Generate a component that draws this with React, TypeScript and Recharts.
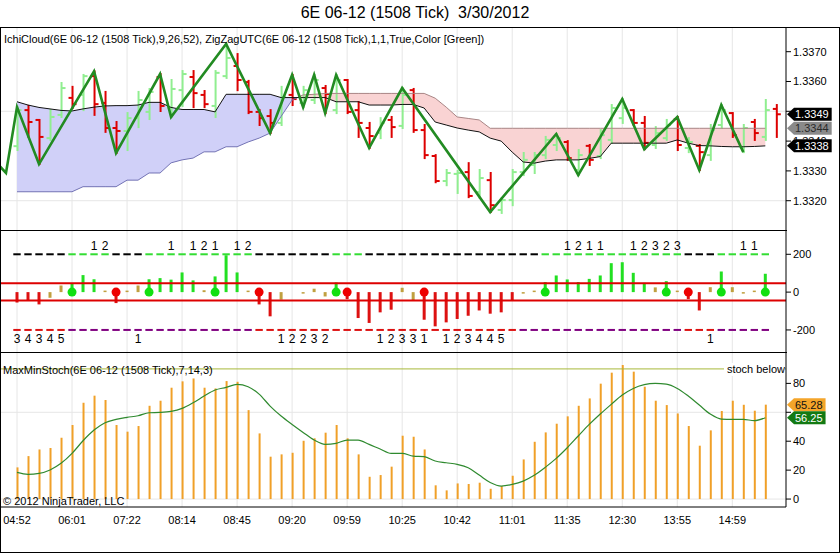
import React from 'react';
import {
  Area,
  Bar,
  CartesianGrid,
  ComposedChart,
  Line,
  ReferenceDot,
  ReferenceLine,
  Scatter,
  XAxis,
  YAxis,
} from 'recharts';

const FONT = '"Liberation Sans", Arial, sans-serif';
const TITLE = '6E 06-12 (1508 Tick)  3/30/2012';

// one label every 5 bars, starting with bar 0
const TIME_LABELS = ['04:52', '06:01', '07:22', '08:14', '08:45', '09:20', '09:59', '10:25', '10:42', '11:01', '11:35', '12:30', '13:55', '14:59'];

// 1508 tick bars, index 0..69
const OPENS = [
  1.33383, 1.33504, 1.33471, 1.3341, 1.33488, 1.33545, 1.33555, 1.33618, 1.33528, 1.33444,
  1.33434, 1.33477, 1.33498, 1.33615, 1.33511, 1.33571, 1.33615, 1.33555, 1.33518, 1.33618,
  1.33652, 1.33598, 1.33498, 1.33484, 1.33461, 1.33555, 1.33528, 1.33538, 1.33578, 1.33504,
  1.33605, 1.33504, 1.33444, 1.33427, 1.33471, 1.33451, 1.33571, 1.33437, 1.3335, 1.33266,
  1.3329, 1.33296, 1.33229, 1.33269, 1.33169, 1.33202, 1.33296, 1.3332, 1.33353, 1.33387,
  1.33397, 1.33303, 1.33384, 1.3335, 1.33404, 1.33477, 1.33504, 1.33461, 1.33387, 1.3341,
  1.33474, 1.33377, 1.33384, 1.33353, 1.33454, 1.33494, 1.33377, 1.33464, 1.33414, 1.33508,
];
const HIGHS = [
  1.33514, 1.33518, 1.33471, 1.33504, 1.33595, 1.33582, 1.33622, 1.33634, 1.33565, 1.33464,
  1.33494, 1.33565, 1.33575, 1.33625, 1.33605, 1.33635, 1.33635, 1.33568, 1.33635, 1.33726,
  1.33692, 1.33602, 1.33504, 1.33504, 1.33582, 1.33622, 1.33582, 1.33622, 1.33585, 1.33622,
  1.33605, 1.33531, 1.33461, 1.33477, 1.33481, 1.33578, 1.33575, 1.33454, 1.33353, 1.33303,
  1.333, 1.33326, 1.33303, 1.33293, 1.33209, 1.33303, 1.3336, 1.3336, 1.33414, 1.33424,
  1.334, 1.3337, 1.33387, 1.33437, 1.33521, 1.33541, 1.33504, 1.33481, 1.33447, 1.33471,
  1.33481, 1.3341, 1.33387, 1.33454, 1.33521, 1.33494, 1.33454, 1.33471, 1.33538, 1.33521,
];
const LOWS = [
  1.3337, 1.33414, 1.33323, 1.33404, 1.33481, 1.33511, 1.33504, 1.33488, 1.33431, 1.3336,
  1.3337, 1.33447, 1.33474, 1.33501, 1.33481, 1.33518, 1.33514, 1.33514, 1.33481, 1.33612,
  1.33571, 1.33494, 1.33454, 1.33427, 1.33454, 1.33521, 1.33514, 1.33528, 1.33494, 1.33494,
  1.33494, 1.33414, 1.33377, 1.3341, 1.33414, 1.33444, 1.33431, 1.33343, 1.33262, 1.33252,
  1.33226, 1.33212, 1.33209, 1.33162, 1.33159, 1.33185, 1.33286, 1.33293, 1.33343, 1.3337,
  1.33337, 1.33286, 1.3332, 1.33343, 1.33394, 1.33461, 1.33454, 1.33373, 1.33377, 1.33404,
  1.3337, 1.33363, 1.33303, 1.33337, 1.33444, 1.33414, 1.33363, 1.33404, 1.33404, 1.33414,
];
const CLOSES = [
  1.33504, 1.33464, 1.33414, 1.33481, 1.33578, 1.33524, 1.33618, 1.33524, 1.33444, 1.33434,
  1.33477, 1.33538, 1.33565, 1.33518, 1.33575, 1.33625, 1.33561, 1.33524, 1.33629, 1.33679,
  1.33605, 1.33498, 1.33477, 1.33461, 1.33548, 1.33541, 1.33571, 1.33605, 1.33558, 1.33605,
  1.33498, 1.33461, 1.33417, 1.33461, 1.33447, 1.33555, 1.33437, 1.33353, 1.33266, 1.33293,
  1.33293, 1.33216, 1.33276, 1.33185, 1.33202, 1.33296, 1.33337, 1.33353, 1.33404, 1.3341,
  1.33343, 1.33353, 1.33337, 1.3342, 1.33511, 1.33511, 1.33461, 1.33394, 1.33427, 1.33454,
  1.33387, 1.33397, 1.33363, 1.33437, 1.33504, 1.3342, 1.33444, 1.33427, 1.33504, 1.3349,
];

// Ichimoku cloud spans, bars 0..68
const SPAN_A = [
  1.33532, 1.33521, 1.33513, 1.33508, 1.33503, 1.33501, 1.33508, 1.33514, 1.33518, 1.33519,
  1.33519, 1.33521, 1.3353, 1.3353, 1.33513, 1.33506, 1.33506, 1.33506, 1.33498, 1.33557,
  1.33557, 1.33557, 1.33557, 1.33557, 1.33546, 1.33546, 1.33546, 1.33546, 1.33546, 1.33532,
  1.33532, 1.33532, 1.33521, 1.33521, 1.33521, 1.33523, 1.33523, 1.33511, 1.33464, 1.33454,
  1.33444, 1.33437, 1.33431, 1.3341, 1.334, 1.33363, 1.3333, 1.33326, 1.33333, 1.33337,
  1.33337, 1.33337, 1.33342, 1.33348, 1.33393, 1.33393, 1.33393, 1.33393, 1.33393, 1.33393,
  1.33404, 1.33393, 1.33385, 1.33384, 1.33382, 1.33381, 1.33381, 1.33382, 1.33384,
];
const SPAN_B = [
  1.3323, 1.3323, 1.3323, 1.3323, 1.3323, 1.3323, 1.33247, 1.33247, 1.33247, 1.33247,
  1.33269, 1.33269, 1.33293, 1.33293, 1.33327, 1.33337, 1.33343, 1.33364, 1.33364, 1.33381,
  1.33381, 1.33397, 1.3341, 1.33427, 1.33483, 1.33538, 1.33555, 1.33557, 1.3356, 1.3356,
  1.3356, 1.3356, 1.3356, 1.3356, 1.3356, 1.3356, 1.3356, 1.3356, 1.33544, 1.33514,
  1.33481, 1.33476, 1.33471, 1.33443, 1.33443, 1.33443, 1.33443, 1.33443, 1.33443, 1.33443,
  1.33443, 1.33443, 1.33443, 1.33443, 1.33443, 1.33443, 1.33443, 1.33443, 1.33443, 1.33443,
  1.33443, 1.33443, 1.33443, 1.33443, 1.33443, 1.33443, 1.33443, 1.33443, 1.33443,
];

// ZigZag swing points (bar index, price)
const ZIGZAG_BARS = [-2, -1, 0, 2, 7, 9, 13, 14, 19, 23, 25, 26, 27, 28, 29, 32, 35, 43, 49, 51, 55, 57, 60, 62, 64, 66];
const ZIGZAG_PRICES = [
  1.33333, 1.33293, 1.33514, 1.33323, 1.33634, 1.3336, 1.33625, 1.33481, 1.33726, 1.33427,
  1.33622, 1.33514, 1.33622, 1.33494, 1.33622, 1.33377, 1.33578, 1.33162, 1.33424, 1.33286,
  1.33541, 1.33373, 1.33481, 1.33303, 1.33521, 1.33363,
];

// middle indicator, bars 0..68
const MOMENTUM = [
  -55, -45, -65, -30, 35, 45, 90, 68, 8, -58,
  8, 35, 68, 74, 66, 104, 62, 10, 83, 195,
  104, 8, -65, -128, -40, 0, -8, 18, -23, 51,
  -37, -137, -163, -107, -93, 23, -44, -146, -181, -160,
  -142, -125, -97, -114, -107, -44, -8, 8, 53, 88,
  67, 53, 70, 88, 153, 158, 102, 49, 25, 58,
  8, -37, -97, 26, 109, 26, -8, 8, 97,
];
// g = up, r = down, o = neutral
const MOMENTUM_STATE = 'rrroogggor' + 'oogggggogg' + 'gorrooooog' + 'rrrrroorrr' + 'rrrrrroogg' + 'ggggggggog' + 'orrogooog';
const BUY_DOTS = [5, 12, 18, 29, 48, 59, 64, 68];
const SELL_DOTS = [9, 22, 30, 37, 61];
const UPPER_BAND = 47;
const LOWER_BAND = -44;
const SIGNAL_LEVEL = 200;
const UPPER_ON_RUNS = [[5, 8], [12, 21], [29, 31], [48, 60], [64, 68]];
const LOWER_ON_RUNS = [[5, 21], [46, 60], [64, 68]];
const UPPER_COUNTS: [number, string][] = [
  [7, '1'], [8, '2'], [14, '1'], [16, '1'], [17, '2'], [18, '1'], [20, '1'], [21, '2'],
  [50, '1'], [51, '2'], [52, '1'], [53, '1'], [56, '1'], [57, '2'], [58, '3'], [59, '2'], [60, '3'],
  [66, '1'], [67, '1'],
];
const LOWER_COUNTS: [number, string][] = [
  [0, '3'], [1, '4'], [2, '3'], [3, '4'], [4, '5'], [11, '1'],
  [24, '1'], [25, '2'], [26, '2'], [27, '3'], [28, '2'],
  [33, '1'], [34, '2'], [35, '3'], [36, '3'], [37, '1'],
  [39, '1'], [40, '2'], [41, '3'], [42, '4'], [43, '4'], [44, '5'], [63, '1'],
];

// MaxMinStoch, bars 0..68
const STOCH_K = [
  21.9, 29.7, 34.3, 35.3, 42.4, 51.2, 66.6, 71.5, 68.5, 51.2,
  46.6, 50.5, 64.5, 68.0, 77.0, 81.4, 83.4, 77.0, 76.5, 81.6,
  81.1, 61.5, 45.4, 29.3, 30.9, 32.0, 40.3, 42.0, 45.9, 51.2,
  42.0, 30.9, 15.4, 16.6, 22.4, 43.8, 43.1, 34.3, 9.5, 6.0,
  10.8, 10.4, 11.3, 7.1, 9.0, 16.1, 27.4, 39.6, 46.1, 52.1,
  57.2, 64.5, 69.6, 79.8, 87.4, 92.7, 88.1, 77.7, 68.0, 65.0,
  59.2, 50.5, 36.9, 47.5, 60.9, 68.0, 65.2, 61.1, 65.28,
];
const STOCH_D = [
  18.4, 17.1, 17.7, 20.1, 24.7, 31.6, 40.3, 47.7, 52.8, 55.1,
  56.5, 57.6, 59.7, 59.9, 60.6, 62.7, 66.6, 71.2, 75.4, 77.2,
  79.3, 77.7, 72.6, 64.3, 57.4, 51.6, 46.1, 40.8, 37.8, 38.5,
  40.8, 40.8, 37.8, 34.6, 31.6, 31.6, 29.7, 29.3, 26.3, 25.1,
  24.0, 21.7, 16.6, 11.5, 9.0, 10.1, 12.4, 16.4, 21.9, 28.1,
  35.5, 43.6, 51.6, 58.8, 65.5, 71.9, 76.5, 79.1, 80.0, 79.5,
  76.5, 71.2, 65.0, 58.8, 55.3, 55.1, 55.1, 54.2, 56.25,
];
const STOCH_LEVEL = 90;

const PRICE_TICKS = [1.332, 1.333, 1.334, 1.335, 1.336, 1.337];
const PRICE_GRID = [1.332, 1.335];
const SIGNAL_TICKS = [-200, 0, 200];
const STOCH_TICKS = [0, 20, 40, 60, 80];
const STOCH_GRID = [0, 60];
const TIME_TICKS = TIME_LABELS.map((_, k) => k * 5);
// tick labels that sit fully under a last-value marker
const COVERED_TICKS = [1.335, 60];

// layout
const X_MIN = -1.545;
const X_MAX = 69.88;
const PRICE_DOMAIN = [1.331017, 1.337795];
const SIGNAL_DOMAIN = [-316.6, 323.1];
const STOCH_DOMAIN = [-5.5, 101.7];
const M0 = { top: 0, right: 0, bottom: 0, left: 0 };
const TICK = { fontSize: 11, fill: '#000', fontFamily: FONT };
const GRID = '#e6e6e6';
const UP = '#90ee90';
const DOWN = '#dd0000';

const inRuns = (runs: number[][], i: number) => runs.some(([a, b]) => i >= a && i <= b);
const tickText = (digits: number) => (v: number) => (COVERED_TICKS.includes(v) ? '' : digits ? v.toFixed(digits) : String(v));

const priceRows: any[] = [];
for (let i = -2; i < OPENS.length; i++) {
  const z = ZIGZAG_BARS.indexOf(i);
  priceRows.push({
    i,
    o: OPENS[i],
    h: HIGHS[i],
    l: LOWS[i],
    c: CLOSES[i],
    sa: SPAN_A[i],
    sb: SPAN_B[i],
    zz: z >= 0 ? ZIGZAG_PRICES[z] : null,
  });
}

const signalRows = MOMENTUM.map((m, i) => ({
  i,
  m,
  state: MOMENTUM_STATE[i],
  dot: BUY_DOTS.includes(i) ? 'buy' : SELL_DOTS.includes(i) ? 'sell' : null,
  top: SIGNAL_LEVEL,
  bot: -SIGNAL_LEVEL,
  upperOn: inRuns(UPPER_ON_RUNS, i),
  lowerOn: inRuns(LOWER_ON_RUNS, i),
  topN: (UPPER_COUNTS.find((e) => e[0] === i) || [0, ''])[1],
  botN: (LOWER_COUNTS.find((e) => e[0] === i) || [0, ''])[1],
}));

const stochRows = STOCH_K.map((st, i) => ({ i, st, sd: STOCH_D[i] }));

// where span A and span B cross, for the two cloud colours
const LAST = SPAN_A.length - 1;
const cloudSegments = (() => {
  const segs: { from: number; to: number; bull: boolean }[] = [];
  let start = 0;
  let bull = SPAN_A[0] >= SPAN_B[0];
  for (let k = 0; k < LAST; k++) {
    const d0 = SPAN_A[k] - SPAN_B[k];
    const d1 = SPAN_A[k + 1] - SPAN_B[k + 1];
    if (d0 >= 0 !== d1 >= 0) {
      const cross = k + d0 / (d0 - d1);
      segs.push({ from: start, to: cross, bull });
      start = cross;
      bull = d1 >= 0;
    }
  }
  segs.push({ from: start, to: LAST, bull });
  return segs;
})();

function gradientStops(id: string, bullColor: string, bearColor: string) {
  return cloudSegments.flatMap((s, k) => [
    <stop key={`${id}a${k}`} offset={s.from / LAST} stopColor={s.bull ? bullColor : bearColor} />,
    <stop key={`${id}b${k}`} offset={s.to / LAST} stopColor={s.bull ? bullColor : bearColor} />,
  ]);
}

function OhlcShape(props: any) {
  const { x, y, width, height, payload } = props;
  if (!payload || payload.h == null || x == null) return null;
  const top = Math.min(y, y + height);
  const span = Math.abs(height);
  const cx = x + width / 2;
  const range = payload.h - payload.l || 1;
  const py = (v: number) => top + ((payload.h - v) / range) * span;
  const col = payload.c >= payload.o ? UP : DOWN;
  return (
    <g stroke={col} strokeWidth={2}>
      <line x1={cx} x2={cx} y1={top - 1} y2={top + span + 1} />
      <line x1={cx - 4} x2={cx} y1={py(payload.o)} y2={py(payload.o)} />
      <line x1={cx} x2={cx + 4} y1={py(payload.c)} y2={py(payload.c)} />
    </g>
  );
}

function HistShape(props: any) {
  const { x, y, width, height, payload } = props;
  if (!payload || x == null) return null;
  const top = Math.min(y, y + height);
  const bot = Math.max(y, y + height);
  const cx = x + width / 2;
  const zero = payload.m >= 0 ? bot : top;
  const col = payload.state === 'g' ? '#22e022' : payload.state === 'r' ? '#dd1111' : '#c0a040';
  return (
    <g>
      {payload.m !== 0 && <rect x={cx - 1.5} y={top} width={3} height={Math.max(bot - top, 1.5)} fill={col} />}
      {payload.dot && <circle cx={cx} cy={zero} r={4.5} fill={payload.dot === 'buy' ? '#11e011' : '#ee0000'} />}
    </g>
  );
}

function TopDash(props: any) {
  const { cx, cy, payload } = props;
  if (cx == null || cy == null) return null;
  return (
    <g>
      <line x1={cx - 3.7} x2={cx + 3.7} y1={cy} y2={cy} stroke={payload.upperOn ? '#33dd33' : '#000'} strokeWidth={2} />
      {payload.topN && (
        <text x={cx} y={cy - 4.5} textAnchor="middle" fontSize={12} fontFamily={FONT} fill="#000">{payload.topN}</text>
      )}
    </g>
  );
}

function BotDash(props: any) {
  const { cx, cy, payload } = props;
  if (cx == null || cy == null) return null;
  return (
    <g>
      <line x1={cx - 3.7} x2={cx + 3.7} y1={cy} y2={cy} stroke={payload.lowerOn ? '#800080' : '#dd1111'} strokeWidth={2} />
      {payload.botN && (
        <text x={cx} y={cy + 13.5} textAnchor="middle" fontSize={12} fontFamily={FONT} fill="#000">{payload.botN}</text>
      )}
    </g>
  );
}

function marker(label: string, bg: string, fg: string) {
  return (p: any) => {
    const { cx, cy } = p;
    if (cx == null || cy == null) return null;
    const w = (label.length - 1) * 6.12 + 3.06;
    const x0 = cx + 1;
    const x1 = cx + 8;
    const x2 = x1 + w + 4;
    return (
      <g>
        <polygon
          points={`${x0},${cy} ${x1},${cy - 6.5} ${x2},${cy - 6.5} ${x2},${cy + 6.5} ${x1},${cy + 6.5}`}
          fill={bg}
        />
        <text x={x1 + 1} y={cy + 4} fill={fg} fontSize={11} fontFamily={FONT}>{label}</text>
      </g>
    );
  };
}

const lastClose = CLOSES[CLOSES.length - 1];
const lastA = SPAN_A[LAST];
const lastB = SPAN_B[LAST];
const lastK = STOCH_K[STOCH_K.length - 1];
const lastD = STOCH_D[STOCH_D.length - 1];

// price markers sit in their own chart, stacked over the axis labels
function MarkerLayer({ height, domain, marks }: { height: number; domain: number[]; marks: [number, string, string, string][] }) {
  return (
    <ComposedChart width={840} height={height} data={[{ i: 0 }]} margin={{ top: 0, right: 54, bottom: 0, left: 0 }}>
      <XAxis dataKey="i" type="number" domain={[X_MIN, X_MAX]} allowDataOverflow hide />
      <YAxis type="number" domain={domain} allowDataOverflow hide />
      {marks.map(([v, label, bg, fg]) => (
        <ReferenceDot key={label} x={X_MAX} y={v} r={0} ifOverflow="visible" shape={marker(label, bg, fg)} />
      ))}
    </ComposedChart>
  );
}

function PricePanel() {
  return (
    <ComposedChart width={840} height={202} data={priceRows} margin={M0}>
      <defs>
        <linearGradient id="cloudFill" x1="0" y1="0" x2="1" y2="0">
          {gradientStops('f', '#d0d0f8', '#f9d3d3')}
        </linearGradient>
        <linearGradient id="spanBStroke" x1="0" y1="0" x2="1" y2="0">
          {gradientStops('s', '#7272b4', '#a88484')}
        </linearGradient>
      </defs>
      <CartesianGrid stroke={GRID} verticalValues={TIME_TICKS} horizontalValues={PRICE_GRID} />
      <XAxis dataKey="i" type="number" domain={[X_MIN, X_MAX]} allowDataOverflow hide />
      <YAxis
        orientation="right"
        width={54}
        domain={PRICE_DOMAIN}
        allowDataOverflow
        ticks={PRICE_TICKS}
        tickFormatter={tickText(4)}
        interval={0}
        tickSize={5}
        tickMargin={2}
        tick={TICK}
        stroke="#000"
      />
      <Area
        dataKey={(d: any) => (d.sa == null ? null : [d.sa, d.sb])}
        fill="url(#cloudFill)"
        fillOpacity={1}
        stroke="none"
        isAnimationActive={false}
      />
      <Line dataKey="sb" stroke="url(#spanBStroke)" strokeWidth={1} dot={false} isAnimationActive={false} />
      <Line dataKey="sa" stroke="#111" strokeWidth={1} dot={false} isAnimationActive={false} />
      <Bar
        dataKey={(d: any) => (d.h == null ? null : [d.l, d.h])}
        barSize={8}
        shape={OhlcShape}
        isAnimationActive={false}
      />
      <Line dataKey="zz" stroke="#228b22" strokeWidth={2.6} connectNulls dot={false} isAnimationActive={false} />
    </ComposedChart>
  );
}

function SignalPanel() {
  return (
    <ComposedChart width={840} height={121} data={signalRows} margin={M0}>
      <CartesianGrid stroke={GRID} verticalValues={TIME_TICKS} horizontal={false} />
      <XAxis dataKey="i" type="number" domain={[X_MIN, X_MAX]} allowDataOverflow hide />
      <YAxis
        orientation="right"
        width={54}
        domain={SIGNAL_DOMAIN}
        allowDataOverflow
        ticks={SIGNAL_TICKS}
        interval={0}
        tickSize={5}
        tickMargin={2}
        tick={TICK}
        stroke="#000"
      />
      <ReferenceLine y={UPPER_BAND} stroke="#dd0000" strokeWidth={2} />
      <ReferenceLine y={LOWER_BAND} stroke="#dd0000" strokeWidth={2} />
      <Scatter dataKey="top" shape={TopDash} isAnimationActive={false} />
      <Scatter dataKey="bot" shape={BotDash} isAnimationActive={false} />
      <Bar dataKey="m" barSize={3} shape={HistShape} isAnimationActive={false} />
    </ComposedChart>
  );
}

function StochPanel() {
  return (
    <ComposedChart width={840} height={201} data={stochRows} margin={M0}>
      <CartesianGrid stroke={GRID} verticalValues={TIME_TICKS} horizontalValues={STOCH_GRID} />
      <XAxis
        dataKey="i"
        type="number"
        domain={[X_MIN, X_MAX]}
        allowDataOverflow
        ticks={TIME_TICKS}
        tickFormatter={(v: number) => TIME_LABELS[Math.round(v / 5)]}
        interval={0}
        tickLine={false}
        tickSize={6}
        tickMargin={3}
        height={46}
        tick={TICK}
        stroke="#000"
      />
      <YAxis
        orientation="right"
        width={54}
        domain={STOCH_DOMAIN}
        allowDataOverflow
        ticks={STOCH_TICKS}
        tickFormatter={tickText(0)}
        interval={0}
        tickSize={5}
        tickMargin={2}
        tick={TICK}
        stroke="#000"
      />
      <ReferenceLine y={STOCH_LEVEL} stroke="#a8b83a" strokeWidth={1} />
      <Bar dataKey="st" barSize={2} fill="#f0a028" isAnimationActive={false} />
      <Line dataKey="sd" type="monotone" stroke="#2f8a2f" strokeWidth={1.2} dot={false} isAnimationActive={false} />
    </ComposedChart>
  );
}

const abs = (s: React.CSSProperties): React.CSSProperties => ({ position: 'absolute', ...s });

export default function App() {
  return (
    <div style={{ position: 'relative', width: 840, height: 553, background: '#fff', fontFamily: FONT, overflow: 'hidden' }}>
      <style>{'body{margin:0}'}</style>
      <div style={abs({ left: 0, top: 4, width: 830, textAlign: 'center', fontSize: 16, lineHeight: '18px', whiteSpace: 'pre' })}>
        {TITLE}
      </div>
      <div style={abs({ left: 0, top: 28 })}><PricePanel /></div>
      <div style={abs({ left: 0, top: 231 })}><SignalPanel /></div>
      <div style={abs({ left: 0, top: 352 })}><StochPanel /></div>
      <div style={abs({ left: 0, top: 28 })}>
        <MarkerLayer
          height={202}
          domain={PRICE_DOMAIN}
          marks={[
            [lastB, lastB.toFixed(4), '#8a8a8a', '#2a2a2a'],
            [lastA, lastA.toFixed(4), '#000', '#fff'],
            [lastClose, lastClose.toFixed(4), '#000', '#fff'],
          ]}
        />
      </div>
      <div style={abs({ left: 0, top: 352 })}>
        <MarkerLayer
          height={155}
          domain={STOCH_DOMAIN}
          marks={[
            [lastK, lastK.toFixed(2), '#f4a52a', '#111'],
            [lastD, lastD.toFixed(2), '#137a13', '#fff'],
          ]}
        />
      </div>

      <div style={abs({ left: 4, top: 33, fontSize: 11, lineHeight: '13px', whiteSpace: 'pre' })}>
        IchiCloud(6E 06-12 (1508 Tick),9,26,52), ZigZagUTC(6E 06-12 (1508 Tick),1,1,True,Color [Green])
      </div>
      <div style={abs({ left: 3, top: 364, fontSize: 11, lineHeight: '13px', whiteSpace: 'pre' })}>
        MaxMinStoch(6E 06-12 (1508 Tick),7,14,3)
      </div>
      <div style={abs({ right: 55, top: 363, fontSize: 11, lineHeight: '13px', background: '#fff', paddingLeft: 3 })}>
        stoch below
      </div>
      <div style={abs({ left: 3, top: 495, fontSize: 11, lineHeight: '13px', whiteSpace: 'pre' })}>
        © 2012 NinjaTrader, LLC
      </div>

      <div style={abs({ left: 0, top: 27, width: 840, height: 526, border: '1px solid #000', boxSizing: 'border-box', pointerEvents: 'none' })} />
      <div style={abs({ left: 0, top: 230, width: 787, height: 1, background: '#000' })} />
      <div style={abs({ left: 0, top: 352, width: 787, height: 1, background: '#000' })} />
    </div>
  );
}
